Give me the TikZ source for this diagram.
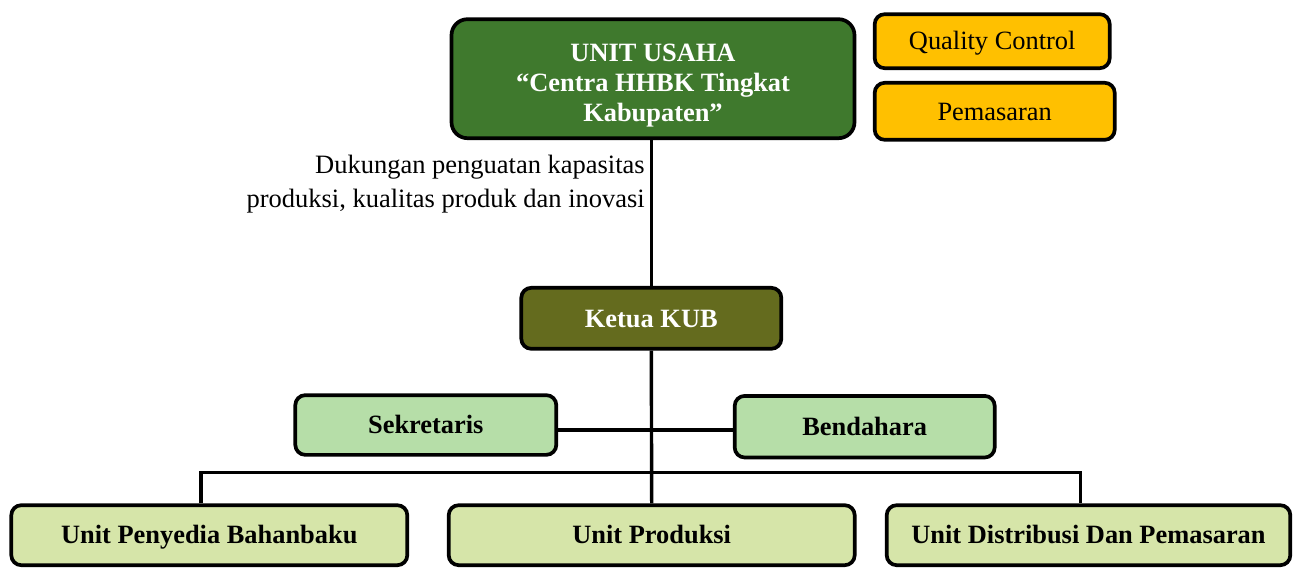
\documentclass[tikz,border=0pt]{standalone}
\usepackage{fontspec}
\setmainfont{Liberation Serif}
\usepackage{tikz}
\usetikzlibrary{positioning}
\usepackage{xcolor}

\definecolor{usahagreen}{RGB}{63,121,45}
\definecolor{qcorange}{RGB}{255,192,0}
\definecolor{ketuaolive}{RGB}{100,107,30}
\definecolor{stafgreen}{RGB}{182,222,168}
\definecolor{unitgreen}{RGB}{214,229,169}
\newcommand{\boxfont}{\fontsize{26.4}{30}\selectfont}

\begin{document}
\begin{tikzpicture}[x=1pt, y=-1pt,
    base/.style={draw=black, line width=3.7pt, rounded corners=10pt, inner sep=0pt,
                 text=black, font=\boxfont\bfseries},
    single/.style={base, text height=17.5pt, text depth=0pt},
    link/.style={line width=3.4pt}]
  \useasboundingbox (0,0) rectangle (1294,570);

  % Unit usaha and side boxes
  \node[base, fill=usahagreen, text=white, rounded corners=16pt, align=center,
        minimum width=403pt, minimum height=119pt] (usaha) at (653,78.7)
        {\rule{0pt}{31.7pt}UNIT USAHA\\“Centra HHBK Tingkat\\Kabupaten”};
  \node[single, fill=qcorange, font=\boxfont, minimum width=235pt,
        minimum height=54pt] (qc) at (992.2,41.2) {Quality Control};
  \node[single, fill=qcorange, font=\boxfont, minimum width=240pt,
        minimum height=57pt] (pemasaran) at (994.7,111.3) {Pemasaran};

  % Support note
  \node[font=\fontsize{26.5}{34}\selectfont, align=right, inner sep=0pt, anchor=east]
        (dukungan) at (645,184)
        {Dukungan penguatan kapasitas\\produksi, kualitas produk dan inovasi};

  % KUB structure
  \node[single, fill=ketuaolive, text=white, minimum width=260pt,
        minimum height=61pt] (ketua) at (651.3,318.3) {Ketua KUB};
  \node[single, fill=stafgreen, minimum width=261pt,
        minimum height=59.7pt] (sekretaris) at (425.8,425) {Sekretaris};
  \node[single, fill=stafgreen, minimum width=260pt,
        minimum height=61.6pt] (bendahara) at (864.7,426.7) {Bendahara};

  \foreach \x/\w/\name/\txt in {209.3/396/bahan/Unit Penyedia Bahanbaku,
                                651.7/406/produksi/Unit Produksi,
                                1088.5/403.6/distribusi/Unit Distribusi Dan Pemasaran}{
    \node[single, fill=unitgreen, minimum width=\w pt,
          minimum height=60pt] (\name) at (\x,535.2) {\txt};
  }

  % Connectors
  \coordinate (mid) at (652,430);
  \coordinate (busL) at (201,472.7);
  \coordinate (busR) at (1080.7,472.7);
  \draw[link] (usaha.south -| ketua) -- (ketua.north);
  \draw[link] (ketua.south) -- (produksi.north);
  \draw[link] (sekretaris.east |- mid) -- (bendahara.west |- mid);
  \draw[link] (bahan.north -| busL) -- (busL) -- (busR) -- (distribusi.north -| busR);
\end{tikzpicture}
\end{document}
